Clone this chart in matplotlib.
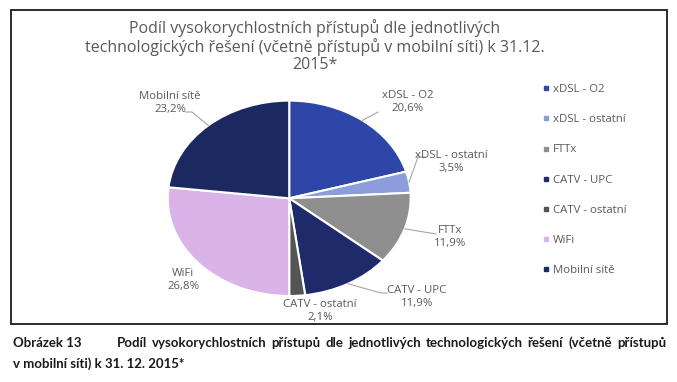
import numpy as np
import matplotlib
matplotlib.use("Agg")
import matplotlib.pyplot as plt
from matplotlib.lines import Line2D
from matplotlib.patches import Rectangle

# Data
categories = ["xDSL - O2", "xDSL - ostatní", "FTTx", "CATV - UPC",
              "CATV - ostatní", "WiFi", "Mobilní sítě"]
shares = [20.6, 3.5, 11.9, 11.9, 2.1, 26.8, 23.2]
colors = ["#2E46A8", "#8C9DDC", "#8F8F8F", "#1F2A6B", "#545454", "#DAB4E8", "#1C2960"]

title = ("Podíl vysokorychlostních přístupů dle jednotlivých\n"
         "technologických řešení (včetně přístupů v mobilní síti) k 31.12.\n2015*")
caption_head = "Obrázek 13"
caption_l1 = "Podíl vysokorychlostních přístupů dle jednotlivých technologických řešení (včetně přístupů"
caption_l2 = "v mobilní síti) k 31. 12. 2015*"

W, H = 677, 382
TXT = "#595959"
FONT = ["Open Sans", "DejaVu Sans"]
CAPFONT = ["Liberation Sans Narrow", "Lato", "DejaVu Sans"]
CAPSIZE = 9.5

fig = plt.figure(figsize=(W / 100, H / 100), dpi=100)
fig.patch.set_facecolor("white")

# chart frame
fig.add_artist(Rectangle((11 / W, 1 - 324 / H), 656 / W, 314 / H, transform=fig.transFigure,
                         fill=False, edgecolor="#1a1a1a", linewidth=1.3))

# pie axes (elliptical pie)
cx, cy, rx, ry = 289.2, 198.3, 121.5, 97.7
L = 1.25
ax = fig.add_axes([(cx - L * rx) / W, (H - cy - L * ry) / H, 2 * L * rx / W, 2 * L * ry / H])
wedges, _ = ax.pie(shares, colors=colors, startangle=90, counterclock=False,
                   wedgeprops=dict(edgecolor="white", linewidth=1.5))
ax.set_aspect("auto")
ax.set_xlim(-L, L)
ax.set_ylim(-L, L)
ax.axis("off")


def px(x, y):
    return (x - cx) / rx, (cy - y) / ry


# label centres (pixels) and leader anchor points
label_pos = [(408, 102), (451, 162), (450, 237), (417, 297), (320, 311), (183, 280), (170, 103)]
leaders = [[(378, 112)], [(425, 157), (418, 157)], [(436, 234)], [(387, 293), (381, 293)],
           None, None, [(186, 112), (192, 112)]]

for w, name, val, pos, lead in zip(wedges, categories, shares, label_pos, leaders):
    tx, ty = px(*pos)
    ax.text(tx, ty, f"{name}\n{val:.1f}%".replace(".", ","), ha="center", va="center",
            fontsize=8.2, color=TXT, family=FONT, linespacing=1.15)
    if lead:
        mid = np.deg2rad((w.theta1 + w.theta2) / 2)
        pts = [px(*p) for p in lead] + [(np.cos(mid), np.sin(mid))]
        xs, ys = zip(*pts)
        ax.plot(xs, ys, color="#A6A6A6", linewidth=0.8)

fig.text(315 / W, 1 - 46 / H, title, ha="center", va="center", fontsize=11.5,
         color=TXT, family=FONT, linespacing=1.08)

# legend
handles = [Line2D([], [], marker="s", linestyle="", markersize=3.2, color=c) for c in colors]
fig.legend(handles, categories, loc="upper left", bbox_to_anchor=(543 / W, 1 - 84 / H),
           frameon=False, handlelength=0.5, handletextpad=0.35, labelspacing=1.69,
           borderpad=0, borderaxespad=0, prop=dict(family=FONT, size=8.2), labelcolor=TXT)

# caption (first line justified between x=117 and x=666)
cap_kw = dict(va="center", fontsize=CAPSIZE, fontweight="bold", family=CAPFONT, color="#1a1a1a")
fig.text(13 / W, 1 - 343 / H, caption_head, ha="left", **cap_kw)
renderer = fig.canvas.get_renderer()
words = caption_l1.split(" ")
objs = [fig.text(0, 1 - 343 / H, wd, ha="left", **cap_kw) for wd in words]
widths = [o.get_window_extent(renderer).width for o in objs]
x0, x1 = 117, 666
gap = (x1 - x0 - sum(widths)) / (len(words) - 1)
x = x0
for o, wdt in zip(objs, widths):
    o.set_x(x / W)
    x += wdt + gap
fig.text(13 / W, 1 - 364 / H, caption_l2, ha="left", **cap_kw)

fig.savefig("out.png", dpi=100)
